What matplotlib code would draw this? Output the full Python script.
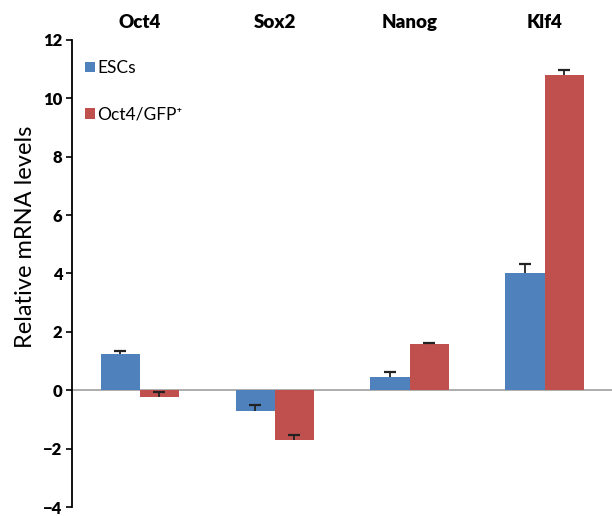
import numpy as np
import matplotlib
matplotlib.use("Agg")
import matplotlib.pyplot as plt

plt.rcParams["font.family"] = ["Lato", "DejaVu Sans"]
plt.rcParams["axes.unicode_minus"] = True

genes = ["Oct4", "Sox2", "Nanog", "Klf4"]
esc_vals = [1.23, -0.71, 0.45, 4.03]
esc_err = [0.12, 0.2, 0.17, 0.28]
gfp_vals = [-0.23, -1.71, 1.57, 10.78]
gfp_err = [0.17, 0.17, 0.04, 0.2]
yticks = [-4, -2, 0, 2, 4, 6, 8, 10, 12]

blue = "#4F81BD"
red = "#C0504D"

fig = plt.figure(figsize=(6.12, 5.16), dpi=100)
ax = fig.add_axes([0.118, 0.017, 0.882, 0.906])

x = np.arange(len(genes))
w = 0.29
zeros = [0] * len(genes)

for pos, vals, err, col, lab in [(x - w / 2, esc_vals, esc_err, blue, "ESCs"),
                                 (x + w / 2, gfp_vals, gfp_err, red, "Oct4/GFP\u207a")]:
    ax.bar(pos, vals, w, color=col, label=lab)
    ax.errorbar(pos, vals, yerr=[zeros, err], fmt="none", ecolor="#222222",
                elinewidth=1.3, capsize=0)
    tops = np.array(vals) + np.array(err)
    ax.plot(pos, tops, ls="none", marker="_", ms=9, mew=1.6, color="#222222")

ax.axhline(0, color="#a0a0a0", lw=1.2, zorder=0.5)

ax.set_xlim(-0.5, 3.5)
ax.set_ylim(-4, 12)
ax.set_yticks(yticks)
ax.set_yticklabels([("\u2212" + str(-t)) if t < 0 else str(t) for t in yticks],
                   fontweight="heavy", fontsize=12)
ax.set_xticks([])
for s in ["top", "right", "bottom"]:
    ax.spines[s].set_visible(False)
ax.spines["left"].set_linewidth(1.3)
ax.tick_params(axis="y", direction="out", length=4, width=1.2, pad=3)

for xi, g in zip(x, genes):
    ax.text(xi, 12.3, g, ha="center", va="bottom", fontsize=13.5, fontweight="heavy")

ax.set_ylabel("Relative mRNA levels", fontsize=17)
ax.yaxis.set_label_coords(-0.067, 0.578)

ax.legend(loc="upper left", bbox_to_anchor=(-0.005, 0.99), frameon=False,
          handlelength=0.55, handleheight=0.55, handletextpad=0.15,
          labelspacing=1.75, fontsize=12.5)

fig.savefig("out.png", dpi=100)
